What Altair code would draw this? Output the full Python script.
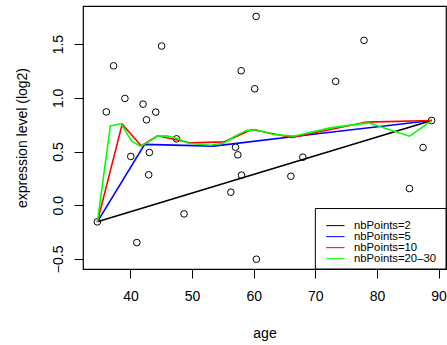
import altair as alt
import pandas as pd

# scatter points
ages = [34.63, 36.08, 37.26, 39.1, 40.05, 41.03, 42.05, 42.6, 42.96, 43.07,
        44.1, 45.06, 47.48, 48.7, 56.29, 57.05, 57.42, 57.97, 58.02, 60.16,
        60.39, 60.44, 66.03, 67.97, 73.29, 77.9, 85.27, 87.48, 88.87]
expr = [-0.155, 0.869, 1.298, 0.994, 0.454, -0.348, 0.941, 0.795, 0.283, 0.491,
        0.867, 1.482, 0.618, -0.081, 0.121, 0.540, 0.469, 1.252, 0.28, 1.084,
        1.758, -0.503, 0.270, 0.447, 1.153, 1.535, 0.155, 0.537, 0.789]

# smoothed lines
series_names = ["nbPoints=2", "nbPoints=5", "nbPoints=10", "nbPoints=20\u201330"]
series_colors = ["#000000", "#0000FF", "#FF0000", "#00FF00"]

nb2_x = [34.63, 88.87]
nb2_y = [-0.155, 0.789]
nb5_x = [34.63, 42.3, 53.5, 71.0, 88.87]
nb5_y = [-0.155, 0.566, 0.55, 0.67, 0.789]
nb10_x = [34.63, 38.66, 41.74, 44.4, 49.8, 55.2, 59.7, 66.2, 78.3, 88.87]
nb10_y = [-0.155, 0.755, 0.553, 0.646, 0.58, 0.59, 0.705, 0.63, 0.774, 0.789]
nb20_x = [34.63, 36.74, 38.5, 40.2, 41.6, 42.7, 44.4, 45.9, 47.6, 49.3, 51.4,
          53.0, 55.2, 56.8, 58.7, 60.3, 63.2, 66.45, 72.4, 78.6, 85.3, 88.87]
nb20_y = [-0.155, 0.739, 0.758, 0.596, 0.55, 0.58, 0.643, 0.646, 0.621, 0.58, 0.566,
          0.559, 0.58, 0.637, 0.692, 0.705, 0.659, 0.643, 0.72, 0.767, 0.643, 0.786]

x_ticks = [40, 50, 60, 70, 80, 90]
y_ticks = [-0.5, 0.0, 0.5, 1.0, 1.5]
x_domain = [32.3, 91.2]
y_domain = [-0.594, 1.855]
legend_box_x = [70, 91.2]
legend_box_y = [-0.594, -0.031]

pts = pd.DataFrame({"age": ages, "expr": expr})
rows = []
for name, xs, ys in zip(series_names, [nb2_x, nb5_x, nb10_x, nb20_x],
                        [nb2_y, nb5_y, nb10_y, nb20_y]):
    for i, (a, b) in enumerate(zip(xs, ys)):
        rows.append({"series": name, "age": a, "expr": b, "ord": i})
lines = pd.DataFrame(rows)
box = pd.DataFrame({"x1": [legend_box_x[0]], "x2": [legend_box_x[1]],
                    "y1": [legend_box_y[0]], "y2": [legend_box_y[1]]})

FONT = "Liberation Sans"

xscale = alt.Scale(domain=x_domain, nice=False, zero=False)
yscale = alt.Scale(domain=y_domain, nice=False, zero=False)

xaxis = alt.Axis(values=x_ticks, format="d", grid=False, domain=False,
                 tickSize=9, tickColor="black", labelFontSize=14, labelFont=FONT,
                 labelColor="black", labelPadding=22, labelBaseline="alphabetic",
                 title="age", titleFont=FONT, titleFontSize=14,
                 titleFontWeight="normal", titleColor="black",
                 titleY=68, titleBaseline="alphabetic")
yaxis = alt.Axis(values=y_ticks, format=".1f", grid=False, domain=False,
                 tickSize=9, tickColor="black", labelFontSize=14, labelFont=FONT,
                 labelColor="black", labelAngle=270, labelAlign="center",
                 labelBaseline="alphabetic", labelPadding=12,
                 title="expression level (log2)", titleFont=FONT, titleFontSize=14,
                 titleFontWeight="normal", titleColor="black",
                 titleX=-56.7, titleY=131.5, titleAngle=270,
                 titleAlign="center", titleBaseline="alphabetic")

points = alt.Chart(pts).mark_point(shape="circle", filled=False, color="black",
                                   size=44, strokeWidth=1, opacity=1).encode(
    x=alt.X("age:Q", scale=xscale, axis=xaxis),
    y=alt.Y("expr:Q", scale=yscale, axis=yaxis),
)

line_layer = alt.Chart(lines).mark_line(strokeWidth=1.6).encode(
    x=alt.X("age:Q", scale=xscale),
    y=alt.Y("expr:Q", scale=yscale),
    order="ord:Q",
    color=alt.Color("series:N",
                    scale=alt.Scale(domain=series_names, range=series_colors),
                    legend=alt.Legend(title=None, orient="none", legendX=246.7,
                                      legendY=214.0, symbolType="M-3,0H3",
                                      symbolSize=37.6, symbolStrokeWidth=1,
                                      labelFont=FONT, labelFontSize=11.3,
                                      labelColor="black", labelOffset=13,
                                      rowPadding=-1.9, padding=0)),
)

legend_box = alt.Chart(box).mark_rect(fill="white", stroke="black",
                                      strokeWidth=1).encode(
    x=alt.X("x1:Q", scale=xscale), x2="x2:Q",
    y=alt.Y("y1:Q", scale=yscale), y2="y2:Q",
)

chart = alt.layer(points, line_layer, legend_box).properties(
    width=363, height=263,
    autosize=alt.AutoSizeParams(type="none"),
    padding={"left": 83, "top": 6, "right": 1, "bottom": 76},
    background="white",
).configure_view(stroke="black", strokeWidth=1.2)

chart.save("out.html", embed_options={"renderer": "svg", "actions": False})
